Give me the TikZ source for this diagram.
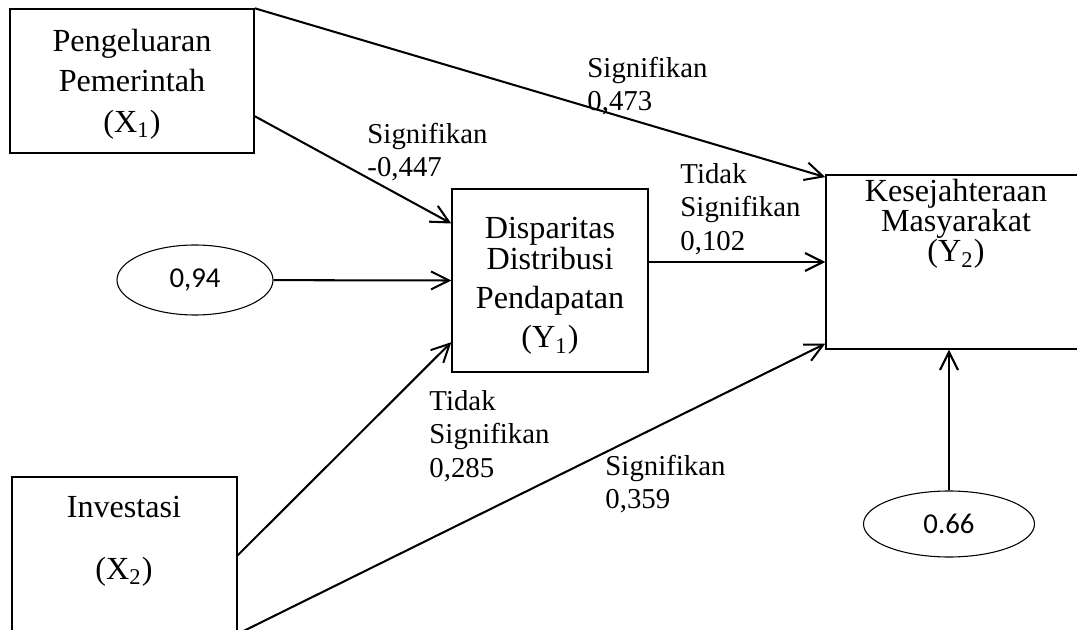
\documentclass[tikz,border=0pt]{standalone}
\usepackage{fontspec}
\setmainfont{Liberation Serif}
\newfontfamily\calibri{Carlito}
\usetikzlibrary{arrows.meta,shapes.geometric}

\newcommand{\pxu}{0.41667pt}

\begin{document}
\begin{tikzpicture}[x=\pxu, y=-\pxu,
    varbox/.style={draw, line width=0.6pt, inner sep=0pt, align=center, font=\fontsize{13.4}{16.6}\selectfont},
    boxtext/.style={align=center, inner sep=0pt},
    errbubble/.style={draw, ellipse, line width=0.45pt, inner sep=0pt, font=\calibri\fontsize{12}{14}\selectfont},
    coef/.style={anchor=west, align=left, inner sep=0pt, font=\fontsize{12}{14}\selectfont},
    link/.style={line width=0.85pt, -{Straight Barb[length=7.5pt, width=7.5pt]}}]

    \useasboundingbox (0, 0) rectangle (1077, 630);
    \clip (0, 0) rectangle (1077, 630);

    % variables
    \node [varbox, minimum width=244*\pxu, minimum height=144*\pxu] (x1) at (132, 81) {};
    \node [boxtext, font=\fontsize{13.4}{16.8}\selectfont] (x1txt) at (132, 84) {Pengeluaran\\Pemerintah\\(X\textsubscript{1})};
    \node [varbox, minimum width=225*\pxu, minimum height=213*\pxu] (x2) at (124.5, 583.5) {};
    \node [boxtext, font=\fontsize{13.4}{26}\selectfont] (x2txt) at (124, 541) {Investasi\\(X\textsubscript{2})};
    \node [varbox, minimum width=196*\pxu, minimum height=183*\pxu] (y1) at (550, 280.5) {};
    \node [boxtext, font=\fontsize{13.4}{16.3}\selectfont] (y1txt) at (550, 286) {Disparitas\\[-3.3pt]Distribusi\\Pendapatan\\(Y\textsubscript{1})};
    \node [varbox, minimum width=260*\pxu, minimum height=174*\pxu] (y2) at (956, 262) {};
    \node [boxtext, font=\fontsize{13.4}{12.6}\selectfont] (y2txt) at (956, 224) {Kesejahteraan\\Masyarakat\\(Y\textsubscript{2})};

    % residuals
    \node [errbubble, minimum width=156*\pxu, minimum height=70*\pxu] (e094) at (195, 280) {0,94};
    \node [errbubble, minimum width=171*\pxu, minimum height=66*\pxu] (e066) at (949, 524) {0.66};

    % paths
    \draw [link] (x1.north east) -- (y2.147);
    \draw [link] (x1.-16) -- (y1.150);
    \draw [link] (e094) -- (y1.west);
    \draw [link] (x2.14) -- (y1.212);
    \draw [link] (x2.-24) -- (y2.212);
    \draw [link] (y1.east |- y2.west) -- (y2.west);
    \draw [link] (e066) -- (e066 |- y2.south);

    % coefficients
    \node [coef] (l473) at (587, 86) {Signifikan\\0,473};
    \node [coef] (l447) at (367, 152) {Signifikan\\-0,447};
    \node [coef] (l102) at (680, 209) {Tidak\\Signifikan\\0,102};
    \node [coef] (l285) at (429, 436) {Tidak\\Signifikan\\0,285};
    \node [coef] (l359) at (605, 484) {Signifikan\\0,359};

\end{tikzpicture}
\end{document}
